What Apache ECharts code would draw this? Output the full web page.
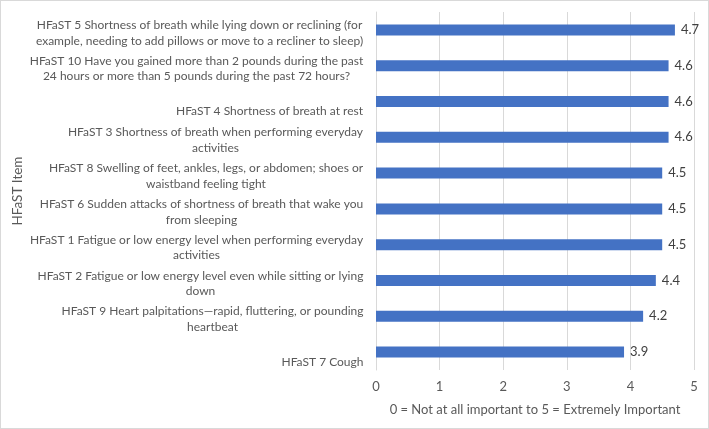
<!DOCTYPE html>
<html>
<head>
<meta charset="utf-8">
<script src="https://cdn.jsdelivr.net/npm/echarts@6/dist/echarts.min.js"></script>
<style>
html,body{margin:0;padding:0;background:#fff;}
#c{width:709px;height:429px;box-sizing:border-box;border:1px solid #d9d9d9;}
</style>
</head>
<body>
<div id="c"></div>
<script>
var categories = [
  "HFaST 5 Shortness of breath while lying down or reclining (for\nexample, needing to add pillows or move to a recliner to sleep)",
  "HFaST 10 Have you gained more than 2 pounds during the past\n24 hours or more than 5 pounds during the past 72 hours?",
  "HFaST 4 Shortness of breath at rest",
  "HFaST 3 Shortness of breath when performing everyday\nactivities",
  "HFaST 8 Swelling of feet, ankles, legs, or abdomen; shoes or\nwaistband feeling tight",
  "HFaST 6 Sudden attacks of shortness of breath that wake you\nfrom sleeping",
  "HFaST 1 Fatigue or low energy level when performing everyday\nactivities",
  "HFaST 2 Fatigue or low energy level even while sitting or lying\ndown",
  "HFaST 9 Heart palpitations\u2014rapid, fluttering, or pounding\nheartbeat",
  "HFaST 7 Cough"
];
var values = [4.7, 4.6, 4.6, 4.6, 4.5, 4.5, 4.5, 4.4, 4.2, 3.9];
var xTicks = [0, 1, 2, 3, 4, 5];
var xAxisTitle = "0 = Not at all important to 5 = Extremely Important";
var yAxisTitle = "HFaST Item";

var FONT = "Lato";
var FS = 12;
var FS2 = 13;
var cv = document.createElement('canvas').getContext('2d');
cv.font = FS + 'px ' + FONT;
var rich = {};
categories.forEach(function (c, i) {
  var lines = c.split('\n');
  var w = 0;
  lines.forEach(function (l) { w = Math.max(w, cv.measureText(l).width); });
  rich['l' + i] = {
    width: Math.ceil(w) + 1, align: 'center', fontFamily: FONT, fontSize: FS,
    color: '#595959', lineHeight: 15.5,
    padding: lines.length === 1 ? [14, 0, 0, 0] : [0, 0, 0, 0]
  };
});

var chart = echarts.init(document.getElementById('c'));
chart.setOption({
  animation: false,
  textStyle: { fontFamily: FONT },
  grid: { left: 375, right: 14, top: 11, bottom: 58, containLabel: false, outerBoundsMode: 'none' },
  xAxis: {
    type: 'value', min: xTicks[0], max: xTicks[xTicks.length - 1], interval: 1,
    axisLine: { show: false }, axisTick: { show: false },
    splitLine: { lineStyle: { color: '#d9d9d9', width: 1 } },
    axisLabel: { color: '#595959', fontSize: FS2, margin: 10 },
    name: xAxisTitle, nameLocation: 'middle', nameGap: 33,
    nameTextStyle: { color: '#595959', fontSize: FS2 }
  },
  yAxis: {
    type: 'category', data: categories, inverse: true,
    axisLine: { show: true, lineStyle: { color: '#d9d9d9' } },
    axisTick: { show: false },
    axisLabel: {
      interval: 0, margin: 12, padding: [6, 0, 0, 0],
      formatter: function (v, idx) {
        return v.split('\n').map(function (l) { return '{l' + idx + '|' + l + '}'; }).join('\n');
      },
      rich: rich
    },
    name: yAxisTitle, nameLocation: 'middle', nameGap: 334, nameRotate: 90,
    nameTextStyle: { color: '#595959', fontSize: 13.5 }
  },
  series: [{
    type: 'bar', data: values, barWidth: 11,
    itemStyle: { color: '#4472c4' },
    label: { show: true, position: 'right', distance: 6, color: '#404040', fontSize: FS2, fontFamily: FONT }
  }]
});
</script>
</body>
</html>
